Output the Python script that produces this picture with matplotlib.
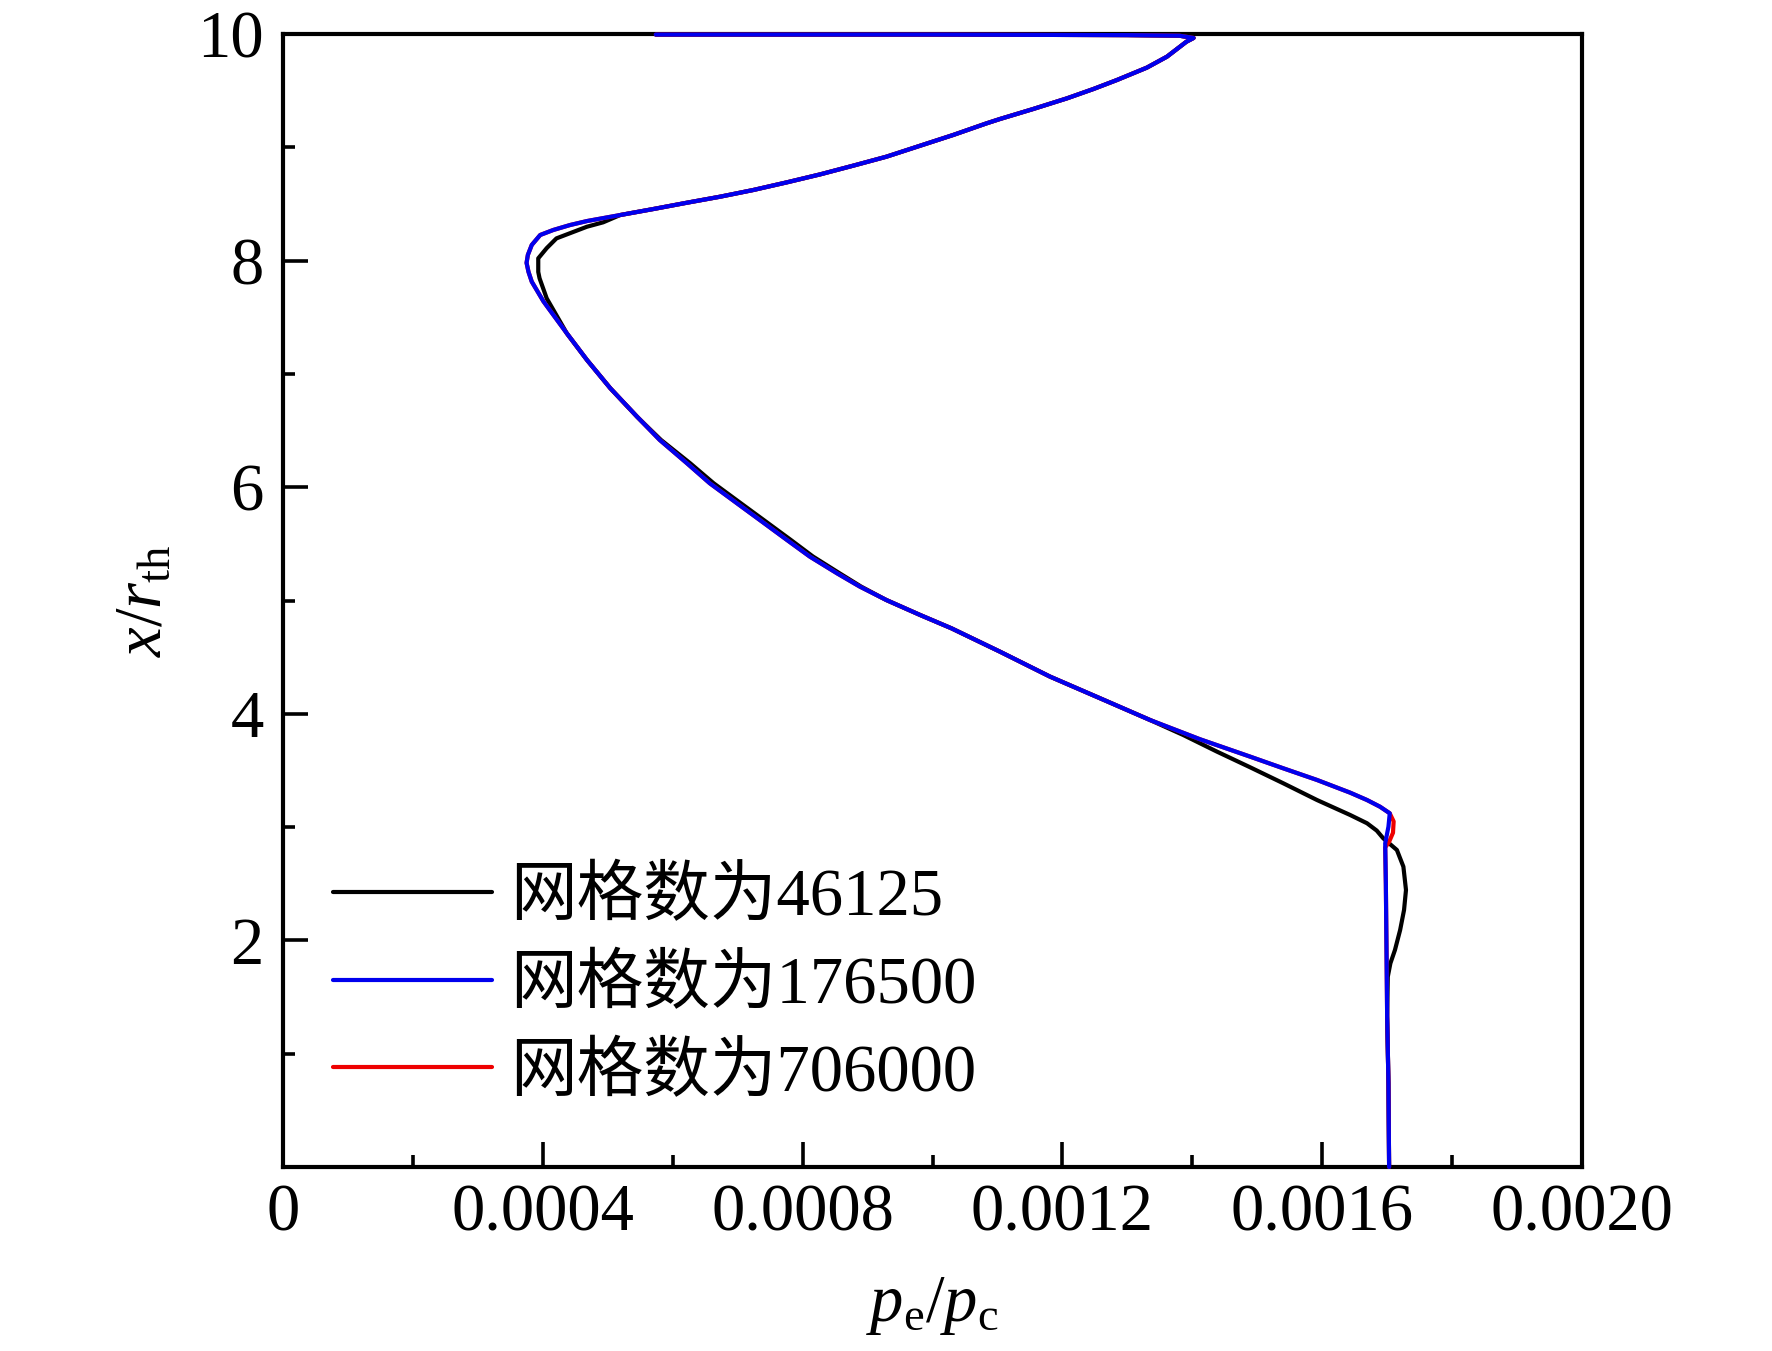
import matplotlib
matplotlib.use('Agg')
import matplotlib.pyplot as plt
from matplotlib.ticker import FixedLocator, NullFormatter

plt.rcParams['font.family'] = ['Liberation Serif', 'Noto Sans CJK SC']
plt.rcParams['mathtext.fontset'] = 'custom'
plt.rcParams['mathtext.rm'] = 'Liberation Serif'
plt.rcParams['mathtext.it'] = 'Liberation Serif:italic'

# ---- data (p_e/p_c vs x/r_th) ----
labels = ['网格数为46125', '网格数为176500', '网格数为706000']

x_176500 = [0.000574, 0.00100, 0.00130, 0.00138, 0.001402, 0.001391, 0.001381, 0.001361, 0.001330,
            0.001284, 0.001248, 0.001207, 0.001155, 0.001104, 0.001083, 0.001032, 0.000981, 0.000929,
            0.000878, 0.000827, 0.000776, 0.000724, 0.000673, 0.000622, 0.000570, 0.000519, 0.000468,
            0.000442, 0.000416, 0.000396, 0.000383, 0.000377, 0.000375, 0.000378, 0.000383, 0.000401,
            0.000437, 0.000468, 0.000504, 0.000545, 0.000580, 0.000622, 0.000657, 0.000699, 0.000734,
            0.000776, 0.000811, 0.000853, 0.000888, 0.000929, 0.000981, 0.001029, 0.001104, 0.001181,
            0.001258, 0.001335, 0.001412, 0.001489, 0.001540, 0.001592, 0.001643, 0.001669, 0.001689,
            0.001704, 0.001702, 0.001697, 0.001698, 0.001699, 0.001700, 0.001702, 0.001703]
y_176500 = [9.995, 9.995, 9.99, 9.985, 9.965, 9.932, 9.888, 9.800, 9.703,
            9.594, 9.515, 9.432, 9.338, 9.250, 9.211, 9.109, 9.014, 8.917,
            8.838, 8.761, 8.691, 8.623, 8.564, 8.511, 8.455, 8.402, 8.349,
            8.314, 8.270, 8.226, 8.138, 8.050, 7.980, 7.900, 7.814, 7.640,
            7.358, 7.123, 6.873, 6.623, 6.417, 6.211, 6.035, 5.858, 5.711,
            5.534, 5.388, 5.240, 5.123, 5.004, 4.872, 4.755, 4.548, 4.328,
            4.137, 3.945, 3.775, 3.622, 3.519, 3.416, 3.304, 3.239, 3.180,
            3.122, 3.004, 2.857, 2.500, 1.920, 1.330, 0.740, 0.0]

x_46125 = [0.000574, 0.00100, 0.00130, 0.00138, 0.001402, 0.001391, 0.001381, 0.001361, 0.001330,
           0.001284, 0.001248, 0.001207, 0.001155, 0.001104, 0.001083, 0.001032, 0.000981, 0.000929,
           0.000878, 0.000827, 0.000776, 0.000724, 0.000673, 0.000622, 0.000570, 0.000519, 0.000493,
           0.000468, 0.000421, 0.000406, 0.000393, 0.000393, 0.000395, 0.000406, 0.000437, 0.000468,
           0.000504, 0.000545, 0.000582, 0.000627, 0.000663, 0.000705, 0.000740, 0.000782, 0.000816,
           0.000857, 0.000890, 0.000929, 0.000981, 0.001029, 0.001104, 0.001181, 0.001258, 0.001335,
           0.001386, 0.001438, 0.001489, 0.001540, 0.001592, 0.001643, 0.001669, 0.001684, 0.001694,
           0.001715, 0.001725, 0.001729, 0.001726, 0.001720, 0.001712, 0.001705, 0.001701, 0.001700,
           0.001702, 0.001703]
y_46125 = [9.995, 9.995, 9.99, 9.985, 9.965, 9.932, 9.888, 9.800, 9.703,
           9.594, 9.515, 9.432, 9.338, 9.250, 9.211, 9.109, 9.014, 8.917,
           8.838, 8.761, 8.691, 8.623, 8.564, 8.511, 8.455, 8.402, 8.338,
           8.299, 8.196, 8.110, 8.020, 7.900, 7.844, 7.667, 7.358, 7.123,
           6.873, 6.623, 6.417, 6.211, 6.035, 5.858, 5.711, 5.534, 5.388,
           5.240, 5.123, 5.004, 4.872, 4.755, 4.548, 4.328, 4.137, 3.945,
           3.813, 3.666, 3.528, 3.387, 3.239, 3.107, 3.034, 2.969, 2.901,
           2.798, 2.651, 2.445, 2.268, 2.092, 1.915, 1.798, 1.680, 1.330,
           0.740, 0.0]

x_706000 = [0.000574, 0.00100, 0.00130, 0.00138, 0.001402, 0.001391, 0.001381, 0.001361, 0.001330,
            0.001284, 0.001248, 0.001207, 0.001155, 0.001104, 0.001083, 0.001032, 0.000981, 0.000929,
            0.000878, 0.000827, 0.000776, 0.000724, 0.000673, 0.000622, 0.000570, 0.000519, 0.000468,
            0.000442, 0.000416, 0.000396, 0.000383, 0.000377, 0.000375, 0.000378, 0.000383, 0.000401,
            0.000437, 0.000468, 0.000504, 0.000545, 0.000580, 0.000622, 0.000657, 0.000699, 0.000734,
            0.000776, 0.000811, 0.000853, 0.000888, 0.000929, 0.000981, 0.001029, 0.001104, 0.001181,
            0.001258, 0.001335, 0.001412, 0.001489, 0.001540, 0.001592, 0.001643, 0.001669, 0.001689,
            0.001704, 0.001710, 0.001709, 0.001703, 0.001697, 0.001698, 0.001699, 0.001700, 0.001702,
            0.001703]
y_706000 = [9.995, 9.995, 9.99, 9.985, 9.965, 9.932, 9.888, 9.800, 9.703,
            9.594, 9.515, 9.432, 9.338, 9.250, 9.211, 9.109, 9.014, 8.917,
            8.838, 8.761, 8.691, 8.623, 8.564, 8.511, 8.455, 8.402, 8.349,
            8.314, 8.270, 8.226, 8.138, 8.050, 7.980, 7.900, 7.814, 7.640,
            7.358, 7.123, 6.873, 6.623, 6.417, 6.211, 6.035, 5.858, 5.711,
            5.534, 5.388, 5.240, 5.123, 5.004, 4.872, 4.755, 4.548, 4.328,
            4.137, 3.945, 3.775, 3.622, 3.519, 3.416, 3.304, 3.239, 3.180,
            3.122, 3.050, 2.950, 2.870, 2.820, 2.500, 1.920, 1.330, 0.740,
            0.0]

x_major = [0, 0.0004, 0.0008, 0.0012, 0.0016, 0.0020]
x_major_labels = ['0', '0.0004', '0.0008', '0.0012', '0.0016', '0.0020']
x_minor = [0.0002, 0.0006, 0.0010, 0.0014, 0.0018]
y_major = [2, 4, 6, 8, 10]
y_major_labels = ['2', '4', '6', '8', '10']
y_minor = [1, 3, 5, 7, 9]

# ---- figure ----
W, H, DPI = 1772, 1351, 200
fig = plt.figure(figsize=(W / DPI, H / DPI), dpi=DPI)
fig.patch.set_facecolor('white')
ax = fig.add_axes([283 / W, 1 - 1167 / H, 1299 / W, 1133 / H])

lw = 1.5
common = dict(lw=lw, clip_on=False, solid_joinstyle='round', solid_capstyle='round')
l1, = ax.plot(x_46125, y_46125, color='black', zorder=3, **common)
l3, = ax.plot(x_706000, y_706000, color='#ee0000', zorder=3.1, **common)
l2, = ax.plot(x_176500, y_176500, color='#0000ee', zorder=3.2, **common)

ax.set_xlim(0, 0.002)
ax.set_ylim(0, 10)

ax.xaxis.set_major_locator(FixedLocator(x_major))
ax.set_xticklabels(x_major_labels)
ax.xaxis.set_minor_locator(FixedLocator(x_minor))
ax.yaxis.set_major_locator(FixedLocator(y_major))
ax.set_yticklabels(y_major_labels)
ax.yaxis.set_minor_locator(FixedLocator(y_minor))
ax.xaxis.set_minor_formatter(NullFormatter())
ax.yaxis.set_minor_formatter(NullFormatter())

for s in ax.spines.values():
    s.set_linewidth(1.5)
    s.set_color('black')

ax.tick_params(which='both', direction='in', top=False, right=False, width=1.3, color='black')
ax.tick_params(which='major', length=9, labelsize=24)
ax.tick_params(which='minor', length=4.3)
ax.tick_params(axis='x', which='major', pad=6)
ax.tick_params(axis='y', which='major', pad=7)

ax.set_xlabel(r'$p_{\rm e}/p_{\rm c}$', fontsize=24, labelpad=11)
ax.set_ylabel(r'$x/r_{\rm th}$', fontsize=24, labelpad=8)

leg = ax.legend([l1, l2, l3], labels, loc='lower left', bbox_to_anchor=(0.0385, 0.055),
                frameon=False, borderpad=0, borderaxespad=0, handlelength=2.38,
                handletextpad=0.28, labelspacing=0.38, fontsize=24)

fig.savefig('out.png', dpi=DPI, facecolor='white')
